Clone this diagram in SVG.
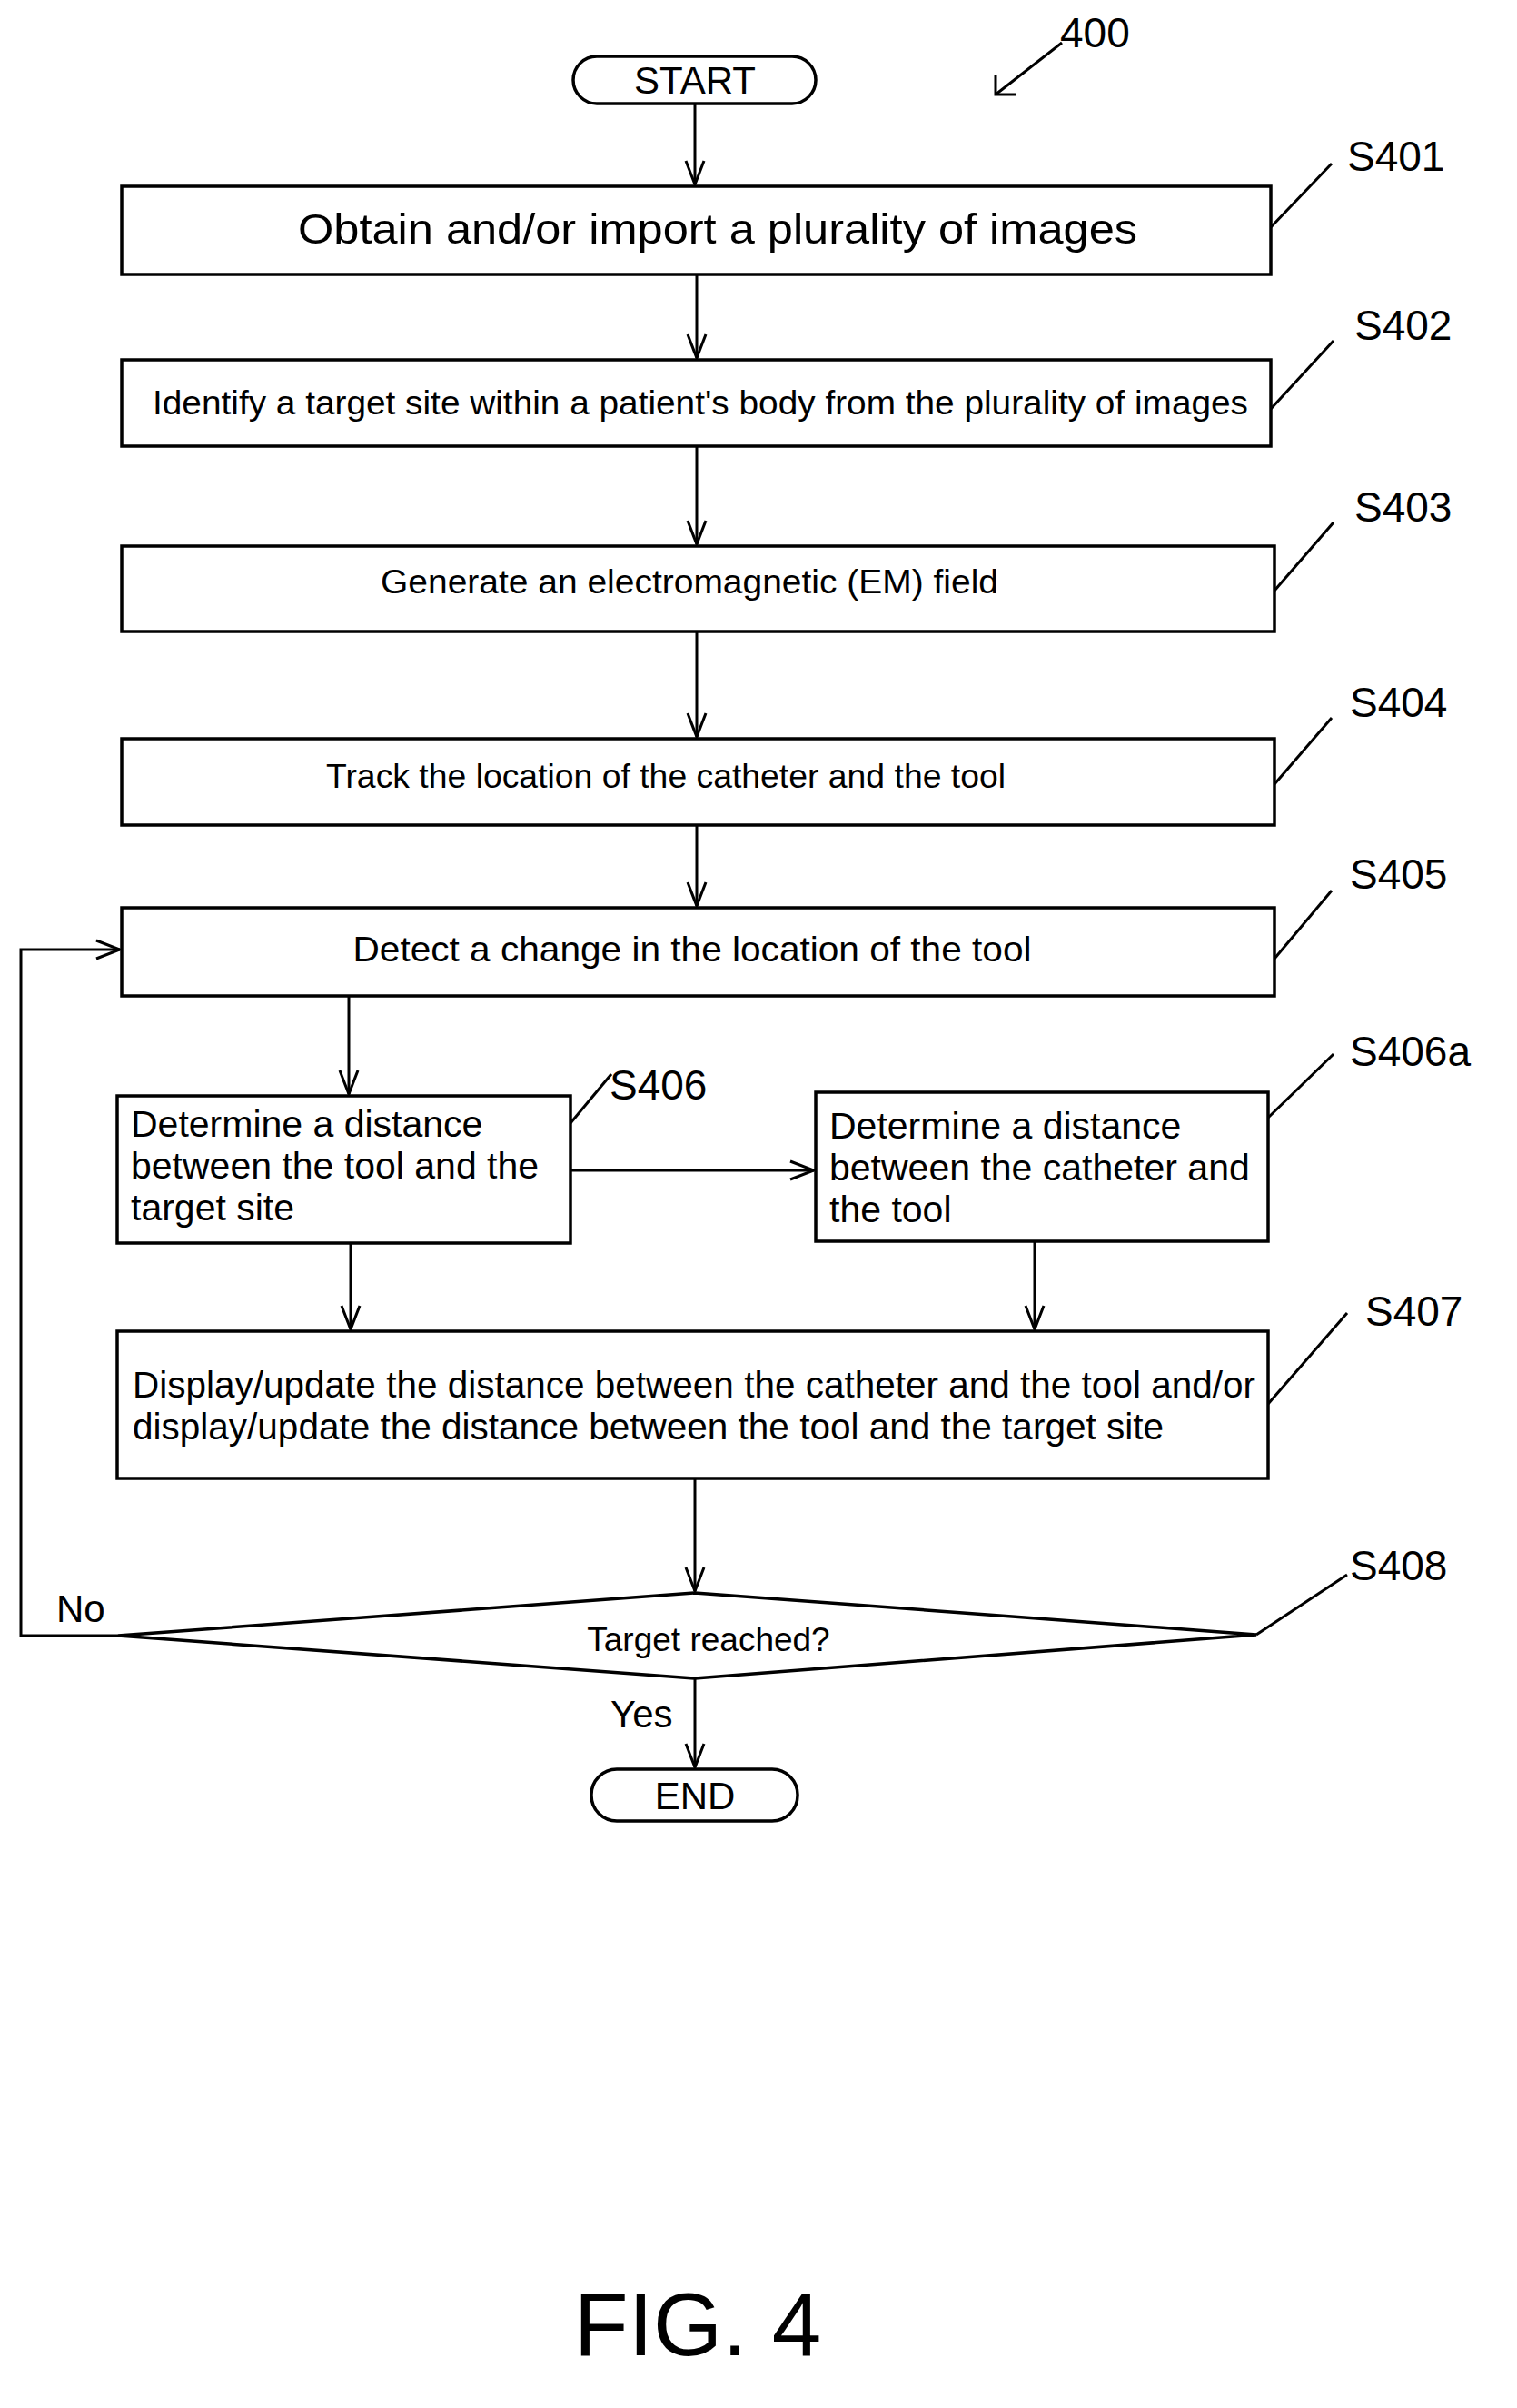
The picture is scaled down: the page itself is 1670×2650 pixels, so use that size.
<svg xmlns="http://www.w3.org/2000/svg" width="1670" height="2650" viewBox="0 0 1670 2650">
<style>
.b{fill:#fff;stroke:#000;stroke-width:3.5}
.l{fill:none;stroke:#000;stroke-width:3}
.t{font-family:"Liberation Sans",Arial,sans-serif;fill:#000}
.c{text-anchor:middle}
.s{font-size:46px}
</style>
<defs>
<marker id="a" markerWidth="30" markerHeight="24" refX="28" refY="12" orient="auto" markerUnits="userSpaceOnUse" viewBox="0 0 30 24">
<polyline points="2,2 28,12 2,22" fill="none" stroke="#000" stroke-width="3"/>
</marker>
</defs>
<rect width="1670" height="2650" fill="#fff"/>
<g id="connectors">
<line class="l" x1="765" y1="114" x2="765" y2="203" marker-end="url(#a)"/>
<line class="l" x1="767" y1="302" x2="767" y2="394" marker-end="url(#a)"/>
<line class="l" x1="767" y1="491" x2="767" y2="599" marker-end="url(#a)"/>
<line class="l" x1="767" y1="695" x2="767" y2="811" marker-end="url(#a)"/>
<line class="l" x1="767" y1="908" x2="767" y2="997" marker-end="url(#a)"/>
<line class="l" x1="384" y1="1096" x2="384" y2="1204" marker-end="url(#a)"/>
<line class="l" x1="628" y1="1288" x2="896" y2="1288" marker-end="url(#a)"/>
<line class="l" x1="386" y1="1368" x2="386" y2="1463" marker-end="url(#a)"/>
<line class="l" x1="1139" y1="1366" x2="1139" y2="1463" marker-end="url(#a)"/>
<line class="l" x1="765" y1="1627" x2="765" y2="1751" marker-end="url(#a)"/>
<line class="l" x1="765" y1="1847" x2="765" y2="1945" marker-end="url(#a)"/>
<polyline class="l" points="130,1800 23,1800 23,1045 132,1045" marker-end="url(#a)"/>
<line class="l" x1="1169" y1="47" x2="1096" y2="104"/>
<polyline class="l" points="1096,82 1096,104 1118,104"/>
<line class="l" x1="1399" y1="250" x2="1466" y2="180"/>
<line class="l" x1="1399" y1="450" x2="1468" y2="375"/>
<line class="l" x1="1403" y1="650" x2="1468" y2="575"/>
<line class="l" x1="1403" y1="863" x2="1466" y2="790"/>
<line class="l" x1="1403" y1="1055" x2="1466" y2="980"/>
<line class="l" x1="628" y1="1236" x2="673" y2="1182"/>
<line class="l" x1="1396" y1="1230" x2="1468" y2="1160"/>
<line class="l" x1="1396" y1="1545" x2="1483" y2="1445"/>
<line class="l" x1="1383" y1="1799" x2="1483" y2="1733"/>
</g>
<g id="start"><rect class="b" x="631" y="62" width="267" height="52" rx="26"/><text class="t c" x="765" y="103" font-size="42">START</text></g>
<text class="t s" x="1167" y="52">400</text>
<g id="s401"><rect class="b" x="134" y="205" width="1265" height="97"/><text class="t c" x="790" y="268" font-size="46" textLength="924" lengthAdjust="spacingAndGlyphs">Obtain and/or import a plurality of images</text><text class="t s" x="1483" y="188">S401</text></g>
<g id="s402"><rect class="b" x="134" y="396" width="1265" height="95"/><text class="t c" x="771" y="456" font-size="37" textLength="1206" lengthAdjust="spacingAndGlyphs">Identify a target site within a patient's body from the plurality of images</text><text class="t s" x="1491" y="374">S402</text></g>
<g id="s403"><rect class="b" x="134" y="601" width="1269" height="94"/><text class="t c" x="759" y="653" font-size="37" textLength="680" lengthAdjust="spacingAndGlyphs">Generate an electromagnetic (EM) field</text><text class="t s" x="1491" y="574">S403</text></g>
<g id="s404"><rect class="b" x="134" y="813" width="1269" height="95"/><text class="t c" x="733" y="867" font-size="37" textLength="748" lengthAdjust="spacingAndGlyphs">Track the location of the catheter and the tool</text><text class="t s" x="1486" y="789">S404</text></g>
<g id="s405"><rect class="b" x="134" y="999" width="1269" height="97"/><text class="t c" x="762" y="1058" font-size="39" textLength="747" lengthAdjust="spacingAndGlyphs">Detect a change in the location of the tool</text><text class="t s" x="1486" y="978">S405</text></g>
<g id="s406"><rect class="b" x="129" y="1206" width="499" height="162"/><text class="t" font-size="41"><tspan x="144" y="1251">Determine a distance</tspan><tspan x="144" y="1297">between the tool and the</tspan><tspan x="144" y="1343">target site</tspan></text><text class="t s" x="671" y="1210">S406</text></g>
<g id="s406a"><rect class="b" x="898" y="1202" width="498" height="164"/><text class="t" font-size="41"><tspan x="913" y="1253">Determine a distance</tspan><tspan x="913" y="1299">between the catheter and</tspan><tspan x="913" y="1345">the tool</tspan></text><text class="t s" x="1486" y="1173">S406a</text></g>
<g id="s407"><rect class="b" x="129" y="1465" width="1267" height="162"/><text class="t" font-size="41"><tspan x="146" y="1538" textLength="1236" lengthAdjust="spacingAndGlyphs">Display/update the distance between the catheter and the tool and/or</tspan><tspan x="146" y="1584" textLength="1135" lengthAdjust="spacingAndGlyphs">display/update the distance between the tool and the target site</tspan></text><text class="t s" x="1503" y="1459">S407</text></g>
<g id="s408"><polygon class="b" points="130,1800 765,1753 1383,1799 765,1847"/><text class="t c" x="780" y="1817" font-size="37">Target reached?</text><text class="t s" x="1486" y="1739">S408</text></g>
<text class="t" x="62" y="1785" font-size="42">No</text>
<text class="t" x="672" y="1901" font-size="42">Yes</text>
<g id="end"><rect class="b" x="651" y="1947" width="227" height="57" rx="28"/><text class="t c" x="765" y="1991" font-size="42">END</text></g>
<text class="t c" x="768" y="2592" font-size="98">FIG. 4</text>
</svg>
